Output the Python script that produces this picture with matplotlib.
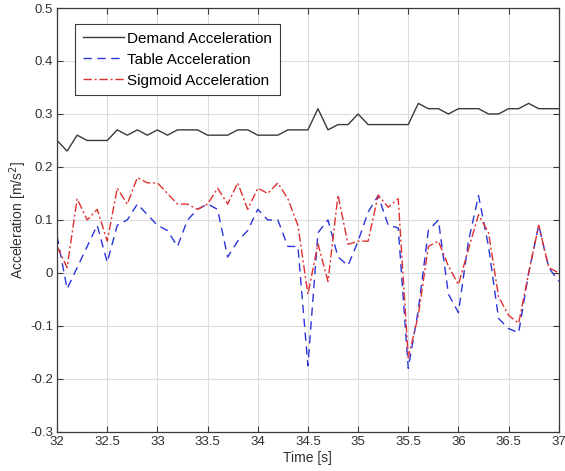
import numpy as np
import matplotlib.pyplot as plt

plt.rcParams['font.family'] = ['Liberation Sans', 'DejaVu Sans']

# time axis, 0.1 s sampling
time = np.round(np.arange(32.0, 37.0001, 0.1), 1)

demand_acc = [0.25, 0.23, 0.26, 0.25, 0.25, 0.25, 0.27, 0.26, 0.27, 0.26,
              0.27, 0.26, 0.27, 0.27, 0.27, 0.26, 0.26, 0.26, 0.27, 0.27,
              0.26, 0.26, 0.26, 0.27, 0.27, 0.27, 0.31, 0.27, 0.28, 0.28,
              0.30, 0.28, 0.28, 0.28, 0.28, 0.28, 0.32, 0.31, 0.31, 0.30,
              0.31, 0.31, 0.31, 0.30, 0.30, 0.31, 0.31, 0.32, 0.31, 0.31,
              0.31]

table_acc = [0.07, -0.03, 0.01, 0.05, 0.09, 0.02, 0.09, 0.10, 0.13, 0.11,
             0.09, 0.08, 0.05, 0.10, 0.12, 0.13, 0.12, 0.03, 0.06, 0.08,
             0.12, 0.10, 0.10, 0.05, 0.05, -0.175, 0.076, 0.10, 0.03, 0.014,
             0.06, 0.115, 0.146, 0.09, 0.085, -0.18, -0.07, 0.08, 0.10, -0.04,
             -0.075, 0.06, 0.146, 0.05, -0.086, -0.105, -0.113, 0.0, 0.09, 0.01,
             -0.016]

sigmoid_acc = [0.05, 0.01, 0.14, 0.10, 0.12, 0.06, 0.16, 0.13, 0.18, 0.17,
               0.17, 0.15, 0.13, 0.13, 0.12, 0.13, 0.16, 0.13, 0.17, 0.12,
               0.16, 0.15, 0.17, 0.14, 0.09, -0.04, 0.055, -0.016, 0.147, 0.054,
               0.06, 0.06, 0.147, 0.124, 0.14, -0.16, -0.08, 0.05, 0.06, 0.013,
               -0.022, 0.045, 0.11, 0.076, -0.045, -0.08, -0.095, 0.0, 0.09, 0.01,
               0.0]

fig = plt.figure(figsize=(5.65, 4.71), dpi=100)
ax = fig.add_axes([0.101, 0.083, 0.888, 0.9])

ax.plot(time, demand_acc, color='#3a3a3a', linewidth=1.0, label='Demand Acceleration')
ax.plot(time, table_acc, color='#2b35d8', linewidth=1.0, linestyle=(0, (6, 4)),
        label='Table Acceleration')
ax.plot(time, sigmoid_acc, color='#e03030', linewidth=1.0, linestyle=(0, (6, 2, 1.5, 2)),
        label='Sigmoid Acceleration')

ax.set_xlim(32, 37)
ax.set_ylim(-0.3, 0.5)
ax.set_xticks(np.arange(32, 37.01, 0.5))
ax.set_xticklabels(['32', '32.5', '33', '33.5', '34', '34.5', '35', '35.5', '36', '36.5', '37'])
ax.set_yticks(np.arange(-0.3, 0.51, 0.1))
ax.set_yticklabels(['-0.3', '-0.2', '-0.1', '0', '0.1', '0.2', '0.3', '0.4', '0.5'])

ax.grid(True, color='#dcdcdc', linewidth=0.8)
ax.tick_params(direction='in', top=True, right=True, length=4, width=0.8,
               colors='#3a3a3a', labelsize=9.5, labelcolor='#303030', pad=3)
for side in ax.spines.values():
    side.set_color('#3a3a3a')
    side.set_linewidth(0.9)

ax.set_xlabel('Time [s]', fontsize=10, color='#303030', labelpad=2)
ax.set_ylabel('Acceleration [m/s$^2$]', fontsize=10, color='#303030', labelpad=1)

leg = ax.legend(loc='upper left', bbox_to_anchor=(0.036, 0.962), fontsize=11,
                frameon=True, fancybox=False, edgecolor='#3a3a3a', framealpha=1,
                handlelength=2.7, handletextpad=0.2, borderpad=0.5, labelspacing=0.45,
                borderaxespad=0)
leg.get_frame().set_linewidth(0.8)

fig.savefig('out.png', dpi=100)
